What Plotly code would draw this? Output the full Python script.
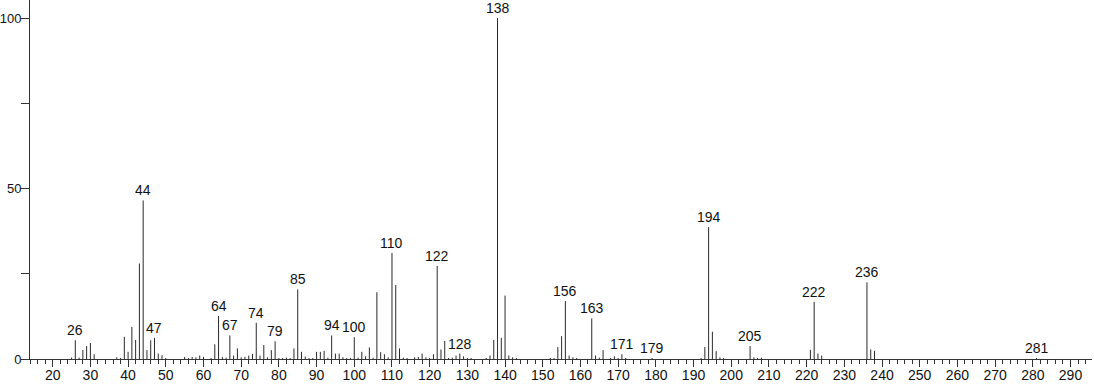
import plotly.graph_objects as go

# m/z values and relative intensities
mz = [25, 26, 27, 28, 29, 30, 31, 37, 38, 39, 40, 41, 42, 43, 44, 45, 46, 47, 48, 49,
      50, 55, 56, 57, 58, 59, 60, 62, 63, 64, 65, 66, 67, 68, 69, 70, 71, 72, 73, 74,
      75, 76, 77, 78, 79, 80, 81, 82, 83, 84, 85, 86, 87, 88, 89, 90, 91, 92, 93, 94,
      95, 96, 97, 98, 99, 100, 101, 102, 103, 104, 105, 106, 107, 108, 109, 110, 111, 112, 113, 114,
      116, 117, 118, 119, 120, 121, 122, 123, 124, 125, 126, 127, 128, 129, 130, 131, 135, 136, 137, 138,
      139, 140, 141, 142, 143, 152, 153, 154, 155, 156, 157, 158, 159, 163, 164, 165, 166, 168, 169, 170,
      171, 172, 179, 192, 193, 194, 195, 196, 197, 198, 205, 206, 207, 208, 221, 222, 223, 224, 236, 237,
      238, 281]
intensity = [0.4, 5.5, 0.4, 2.6, 3.8, 4.7, 1.4, 0.5, 0.3, 6.5, 2.1, 9.4, 5.6, 28.0, 46.5, 2.6, 5.5, 6.2, 1.6, 1.1,
             0.3, 0.6, 0.3, 0.6, 0.5, 1.0, 0.6, 0.3, 4.3, 12.6, 0.6, 0.4, 6.9, 1.0, 3.1, 0.5, 0.6, 1.0, 1.5, 10.6,
             1.0, 4.1, 0.5, 2.6, 5.2, 0.3, 0.3, 0.4, 0.3, 3.1, 20.4, 2.1, 0.7, 0.3, 0.3, 2.1, 2.1, 2.4, 0.4, 6.9,
             1.6, 1.6, 0.5, 0.3, 0.3, 6.4, 0.4, 2.1, 0.8, 3.4, 0.4, 19.6, 2.0, 1.4, 0.5, 31.1, 21.7, 3.1, 0.4, 0.3,
             0.5, 0.6, 1.6, 0.5, 0.3, 1.4, 27.3, 2.8, 5.3, 0.3, 0.4, 1.0, 1.6, 0.8, 0.3, 0.3, 0.3, 1.0, 5.6, 100.0,
             6.2, 18.6, 1.0, 0.5, 0.3, 0.3, 0.3, 3.5, 6.7, 17.0, 1.0, 0.5, 0.3, 11.9, 1.0, 0.4, 2.6, 0.3, 0.8, 0.3,
             1.4, 0.3, 0.3, 0.3, 3.5, 38.7, 8.0, 2.3, 0.5, 0.3, 3.8, 0.5, 0.3, 0.4, 2.7, 16.8, 1.6, 1.0, 22.5, 2.8,
             2.4, 0.3]

labelled = [26, 44, 47, 64, 67, 74, 79, 85, 94, 100, 110, 122, 128, 138, 156, 163, 171, 179,
            194, 205, 222, 236, 281]

xs, ys = [], []
for m, h in zip(mz, intensity):
    xs += [m, m, None]
    ys += [0, h, None]

FONT = "Liberation Sans, Arial, sans-serif"

fig = go.Figure()
fig.add_trace(go.Scatter(x=xs, y=ys, mode="lines",
                         line=dict(color="#2a2a2a", width=1),
                         hoverinfo="skip", showlegend=False))

lookup = dict(zip(mz, intensity))
for m in labelled:
    fig.add_annotation(x=m, y=lookup[m], text=str(m), showarrow=False,
                       yanchor="bottom", xanchor="center", yshift=0,
                       font=dict(family=FONT, size=14, color="#111"))

x_ticks = list(range(20, 300, 10))
y_ticks = [0, 25, 50, 75, 100]
y_text = ["0", "", "50", "", "100"]

fig.update_layout(
    width=1094, height=384,
    margin=dict(l=30, r=2, t=0, b=25),
    plot_bgcolor="white", paper_bgcolor="white",
    font=dict(family=FONT, size=14, color="#111"),
    xaxis=dict(range=[13.98, 295.7], tickvals=x_ticks, ticks="outside", ticklen=7,
               tickcolor="#333", showline=True, linecolor="#333", linewidth=1,
               showgrid=False, zeroline=False, automargin=False, ticklabelstandoff=-4,
               tickfont=dict(family=FONT, size=14, color="#111"),
               minor=dict(dtick=2, tick0=0, ticks="outside", ticklen=4, tickcolor="#333")),
    yaxis=dict(range=[0, 105.3], tickvals=y_ticks, ticktext=y_text, ticks="outside",
               ticklen=8, tickcolor="#333", showline=True, linecolor="#333", linewidth=1,
               showgrid=False, zeroline=False, automargin=False, ticklabelstandoff=-3,
               tickfont=dict(family=FONT, size=13, color="#111")),
)

fig.write_html("out.html")
